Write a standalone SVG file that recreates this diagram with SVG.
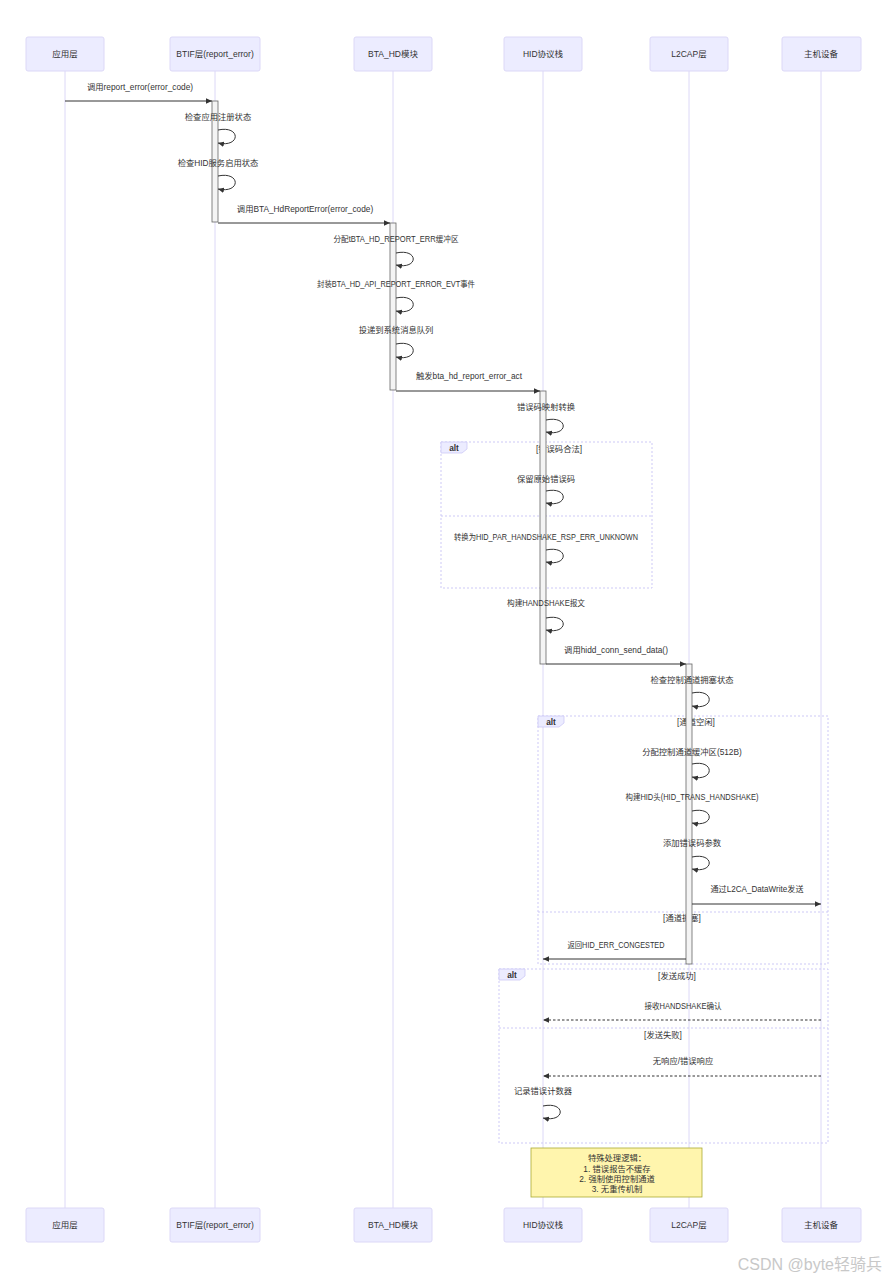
<svg xmlns="http://www.w3.org/2000/svg" width="887" height="1280" viewBox="0 0 887 1280">
<style>
text{font-family:"Liberation Sans","Noto Sans CJK SC",sans-serif;fill:#333;}
.actor{fill:#ececff;stroke:#dcd8f7;stroke-width:1;}
.atext{font-size:8.5px;text-anchor:middle;dominant-baseline:central;}
.life{stroke:#dcd8f7;stroke-width:1;}
.msg{stroke:#333;stroke-width:1;fill:none;}
.dash{stroke-dasharray:2.5,2;}
.mt{font-size:8.3px;text-anchor:middle;dominant-baseline:central;}
.act{fill:#f4f4f4;stroke:#666;stroke-width:0.8;}
.frame{fill:none;stroke:#cdc9f6;stroke-width:1;stroke-dasharray:2,2;}
.tab{fill:#ececff;stroke:#cdc9f6;stroke-width:0.8;}
.lt{font-size:8.3px;text-anchor:middle;dominant-baseline:central;}
.lb{font-size:8.3px;text-anchor:middle;dominant-baseline:central;font-weight:bold;}
.note{fill:#fff5ad;stroke:#aaaa33;stroke-width:0.8;}
</style>
<defs>
<marker id="ah" markerWidth="7" markerHeight="6" refX="6" refY="2.75" orient="auto" markerUnits="userSpaceOnUse">
<path d="M0,0 L6,2.75 L0,5.5 z" fill="#333"/>
</marker>
</defs>

<g id="lifelines">
<line class="life" x1="65" y1="71" x2="65" y2="1208"/>
<line class="life" x1="215" y1="71" x2="215" y2="1208"/>
<line class="life" x1="393" y1="71" x2="393" y2="1208"/>
<line class="life" x1="543" y1="71" x2="543" y2="1208"/>
<line class="life" x1="689" y1="71" x2="689" y2="1208"/>
<line class="life" x1="821" y1="71" x2="821" y2="1208"/>
</g>

<g id="actor-app-top"><rect class="actor" x="26" y="37" width="78" height="34" rx="2"/><text class="atext" x="65" y="54">应用层</text></g>
<g id="actor-btif-top"><rect class="actor" x="170" y="37" width="90" height="34" rx="2"/><text class="atext" x="215" y="54">BTIF层(report_error)</text></g>
<g id="actor-bta-top"><rect class="actor" x="354" y="37" width="78" height="34" rx="2"/><text class="atext" x="393" y="54">BTA_HD模块</text></g>
<g id="actor-hid-top"><rect class="actor" x="504" y="37" width="78" height="34" rx="2"/><text class="atext" x="543" y="54">HID协议栈</text></g>
<g id="actor-l2cap-top"><rect class="actor" x="650" y="37" width="78" height="34" rx="2"/><text class="atext" x="689" y="54">L2CAP层</text></g>
<g id="actor-host-top"><rect class="actor" x="782" y="37" width="79" height="34" rx="2"/><text class="atext" x="821" y="54">主机设备</text></g>

<g id="actor-app-bottom"><rect class="actor" x="26" y="1208" width="78" height="34" rx="2"/><text class="atext" x="65" y="1225">应用层</text></g>
<g id="actor-btif-bottom"><rect class="actor" x="170" y="1208" width="90" height="34" rx="2"/><text class="atext" x="215" y="1225">BTIF层(report_error)</text></g>
<g id="actor-bta-bottom"><rect class="actor" x="354" y="1208" width="78" height="34" rx="2"/><text class="atext" x="393" y="1225">BTA_HD模块</text></g>
<g id="actor-hid-bottom"><rect class="actor" x="504" y="1208" width="78" height="34" rx="2"/><text class="atext" x="543" y="1225">HID协议栈</text></g>
<g id="actor-l2cap-bottom"><rect class="actor" x="650" y="1208" width="78" height="34" rx="2"/><text class="atext" x="689" y="1225">L2CAP层</text></g>
<g id="actor-host-bottom"><rect class="actor" x="782" y="1208" width="79" height="34" rx="2"/><text class="atext" x="821" y="1225">主机设备</text></g>

<g id="frames">
<rect class="frame" x="441" y="442" width="211" height="146"/>
<polygon class="tab" points="441,442 467,442 467,449 462,453 441,453"/>
<text class="lb" x="454" y="448">alt</text>
<text class="lt" x="559" y="449">[错误码合法]</text>
<line class="frame" x1="441" y1="516" x2="652" y2="516"/>

<rect class="frame" x="538" y="716" width="290" height="248"/>
<polygon class="tab" points="538,716 564,716 564,723 559,727 538,727"/>
<text class="lb" x="551" y="721.5">alt</text>
<text class="lt" x="696" y="721.5">[通道空闲]</text>
<line class="frame" x1="538" y1="912" x2="828" y2="912"/>
<text class="lt" x="682" y="918">[通道拥塞]</text>

<rect class="frame" x="499" y="969" width="329" height="174"/>
<polygon class="tab" points="499,969 525,969 525,976 520,980 499,980"/>
<text class="lb" x="512" y="975">alt</text>
<text class="lt" x="677" y="976">[发送成功]</text>
<line class="frame" x1="499" y1="1028" x2="828" y2="1028"/>
<text class="lt" x="663" y="1035">[发送失败]</text>
</g>

<g id="activations">
<rect class="act" x="212" y="101" width="6" height="121"/>
<rect class="act" x="390" y="223" width="6" height="167"/>
<rect class="act" x="540" y="391" width="6" height="273"/>
<rect class="act" x="686" y="664" width="6" height="300"/>
</g>

<g id="connectors">
<line class="msg" x1="65" y1="101" x2="212" y2="101" marker-end="url(#ah)"/>
<text class="mt" x="140" y="87">调用report_error(error_code)</text>

<path class="msg" d="M218,130 C241,125 241,148 218,143" marker-end="url(#ah)"/>
<text class="mt" x="218" y="117">检查应用注册状态</text>
<path class="msg" d="M218,176 C241,171 241,194 218,189" marker-end="url(#ah)"/>
<text class="mt" x="218" y="163">检查HID服务启用状态</text>

<line class="msg" x1="218" y1="223" x2="390" y2="223" marker-end="url(#ah)"/>
<text class="mt" x="305" y="209">调用BTA_HdReportError(error_code)</text>

<path class="msg" d="M396,253 C419,248 419,270 396,265" marker-end="url(#ah)"/>
<text class="mt" x="396" y="239" textLength="125" lengthAdjust="spacingAndGlyphs">分配tBTA_HD_REPORT_ERR缓冲区</text>
<path class="msg" d="M396,298 C419,293 419,316 396,311" marker-end="url(#ah)"/>
<text class="mt" x="396" y="284" textLength="158" lengthAdjust="spacingAndGlyphs">封装BTA_HD_API_REPORT_ERROR_EVT事件</text>
<path class="msg" d="M396,344 C419,339 419,362 396,357" marker-end="url(#ah)"/>
<text class="mt" x="396" y="330">投递到系统消息队列</text>

<line class="msg" x1="396" y1="391" x2="540" y2="391" marker-end="url(#ah)"/>
<text class="mt" x="469" y="376">触发bta_hd_report_error_act</text>

<path class="msg" d="M546,420 C569,415 569,437 546,432" marker-end="url(#ah)"/>
<text class="mt" x="546" y="407">错误码映射转换</text>
<path class="msg" d="M546,491 C569,486 569,508 546,503" marker-end="url(#ah)"/>
<text class="mt" x="546" y="479">保留原始错误码</text>
<path class="msg" d="M546,550 C569,545 569,567 546,562" marker-end="url(#ah)"/>
<text class="mt" x="546" y="537" textLength="184" lengthAdjust="spacingAndGlyphs">转换为HID_PAR_HANDSHAKE_RSP_ERR_UNKNOWN</text>
<path class="msg" d="M546,618 C569,613 569,635 546,630" marker-end="url(#ah)"/>
<text class="mt" x="546" y="603" textLength="78" lengthAdjust="spacingAndGlyphs">构建HANDSHAKE报文</text>

<line class="msg" x1="546" y1="664" x2="686" y2="664" marker-end="url(#ah)"/>
<text class="mt" x="616" y="650">调用hidd_conn_send_data()</text>

<path class="msg" d="M692,693 C715,688 715,711 692,706" marker-end="url(#ah)"/>
<text class="mt" x="692" y="680">检查控制通道拥塞状态</text>
<path class="msg" d="M692,764 C715,759 715,782 692,777" marker-end="url(#ah)"/>
<text class="mt" x="692" y="752">分配控制通道缓冲区(512B)</text>
<path class="msg" d="M692,811 C715,806 715,828 692,823" marker-end="url(#ah)"/>
<text class="mt" x="692" y="797" textLength="133" lengthAdjust="spacingAndGlyphs">构建HID头(HID_TRANS_HANDSHAKE)</text>
<path class="msg" d="M692,857 C715,852 715,874 692,869" marker-end="url(#ah)"/>
<text class="mt" x="692" y="843">添加错误码参数</text>

<line class="msg" x1="692" y1="904" x2="821" y2="904" marker-end="url(#ah)"/>
<text class="mt" x="757" y="889" textLength="93" lengthAdjust="spacingAndGlyphs">通过L2CA_DataWrite发送</text>

<line class="msg" x1="686" y1="959" x2="543" y2="959" marker-end="url(#ah)"/>
<text class="mt" x="616" y="945" textLength="97" lengthAdjust="spacingAndGlyphs">返回HID_ERR_CONGESTED</text>

<line class="msg dash" x1="821" y1="1020" x2="543" y2="1020" marker-end="url(#ah)"/>
<text class="mt" x="683" y="1006" textLength="77" lengthAdjust="spacingAndGlyphs">接收HANDSHAKE确认</text>
<line class="msg dash" x1="821" y1="1076" x2="543" y2="1076" marker-end="url(#ah)"/>
<text class="mt" x="683" y="1061">无响应/错误响应</text>

<path class="msg" d="M543,1106 C566,1101 566,1123 543,1118" marker-end="url(#ah)"/>
<text class="mt" x="543" y="1091">记录错误计数器</text>
</g>

<g id="note">
<rect class="note" x="531" y="1148" width="171" height="49"/>
<text class="mt" x="617" y="1158">特殊处理逻辑：</text>
<text class="mt" x="617" y="1168.5">1. 错误报告不缓存</text>
<text class="mt" x="617" y="1178.5">2. 强制使用控制通道</text>
<text class="mt" x="617" y="1188.5">3. 无重传机制</text>
</g>

<text x="882" y="1264" style="font-size:16px;fill:#c8c8c8;text-anchor:end;dominant-baseline:central;">CSDN @byte轻骑兵</text>
</svg>
